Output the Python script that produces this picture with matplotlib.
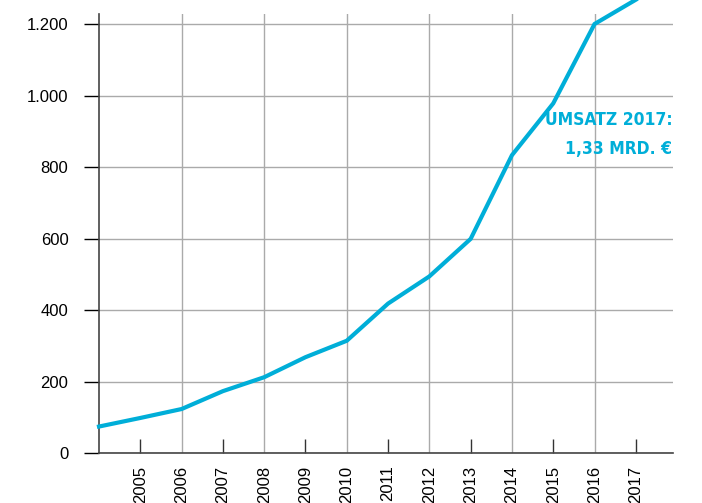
import matplotlib
matplotlib.use("Agg")
import matplotlib.pyplot as plt

# Daten (Umsatz in Mio. EUR)
years = [2004, 2005, 2006, 2007, 2008, 2009, 2010, 2011, 2012, 2013, 2014, 2015, 2016, 2017]
umsatz = [74, 98, 123, 173, 212, 268, 314, 418, 494, 599, 833, 978, 1200, 1268]
y_ticks = [0, 200, 400, 600, 800, 1000, 1200]
y_labels = ["0", "200", "400", "600", "800", "1.000", "1.200"]
note = "UMSATZ 2017:\n1,33 MRD. €"

blue = "#00aed8"
grid_col = "#aaaaaa"

plt.rcParams["font.family"] = ["Liberation Sans", "DejaVu Sans"]
plt.rcParams["font.stretch"] = "normal"

fig = plt.figure(figsize=(7.02, 5.03), dpi=100)
ax = fig.add_axes([99 / 702, 50 / 503, (673 - 99) / 702, (489 - 50) / 503])

ax.plot(years, umsatz, color=blue, lw=3, clip_on=False, zorder=5,
        solid_joinstyle="miter")

ax.set_xlim(2004, 2017.9)
ax.set_ylim(0, 1228)

# ungerade Jahre: kurze Striche, gerade Jahre: Gitterlinien
odd = [y for y in years[1:] if y % 2 == 1]
even = [y for y in years[1:] if y % 2 == 0]
ax.set_xticks(odd, [str(y) for y in odd])
ax.set_xticks(even, [str(y) for y in even], minor=True)
ax.tick_params(axis="x", which="major", direction="in", length=10, width=1,
               color="#333333", pad=9, labelrotation=90, labelsize=12)
ax.tick_params(axis="x", which="minor", length=0, pad=9,
               labelrotation=90, labelsize=12)
ax.grid(axis="x", which="minor", color=grid_col, lw=1)

ax.set_yticks(y_ticks, y_labels)
ax.tick_params(axis="y", direction="out", length=11, width=1, color="black",
               pad=11, labelsize=12)
ax.grid(axis="y", which="major", color=grid_col, lw=1)
ax.set_axisbelow(True)

for s in ["top", "right"]:
    ax.spines[s].set_visible(False)
ax.spines["left"].set_color("#444444")
ax.spines["bottom"].set_color("#444444")
ax.spines["left"].set_linewidth(1.2)
ax.spines["bottom"].set_linewidth(1.2)

ax.text(2017.88, 957, note, ha="right", va="top", color=blue,
        fontsize=12.5, fontweight="bold", linespacing=1.8,
        family="DejaVu Sans", fontstretch="condensed")

fig.savefig("out.png", dpi=100)
